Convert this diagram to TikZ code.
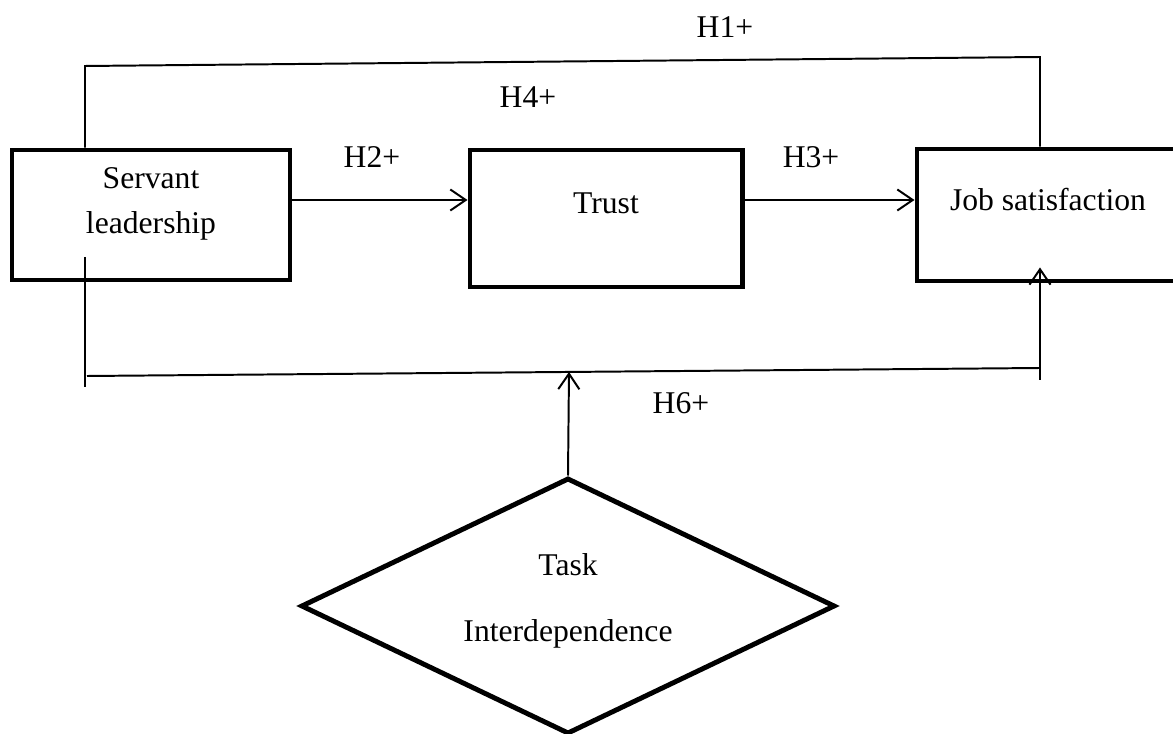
\documentclass[tikz,border=0pt]{standalone}
\usepackage{fontspec}
\setmainfont{Liberation Serif}
\usetikzlibrary{shapes.geometric, arrows.meta, positioning}

\begin{document}
\begin{tikzpicture}[x=0.025cm, y=-0.025cm,
    font=\fontsize{22.5}{32}\selectfont,
    box/.style={draw, line width=3.5pt, rectangle, inner sep=0pt},
    link/.style={line width=1.4pt},
    arr/.style={link, -{Straight Barb[length=11pt, width=15pt]}}]
    \clip (0,0) rectangle (1173,734);
    \node[box, minimum width=6.95cm, minimum height=3.25cm] (SL) at (151,215) {};
    \node[box, minimum width=6.8cm, minimum height=3.425cm] (T) at (606,218.5) {};
    \node[box, minimum width=6.525cm, minimum height=3.3cm] (JS) at (1047.5,215) {};
    \node[draw, diamond, line width=3.5pt, inner sep=0pt, minimum width=13.35cm, minimum height=6.4cm] (TI) at (568,606) {};
    \node[align=center] (SLtext) at (151,204) {Servant\\leadership};
    \node (Ttext) at (606,203) {Trust};
    \node (JStext) at (1048,200) {Job satisfaction};
    \node[align=center] (TItext) at (568,601) {Task\\[15pt]Interdependence};
    \node (H1) at (725,27) {H1+};
    \node (H4) at (528,97) {H4+};
    \node (H2) at (372,157) {H2+};
    \node (H3) at (811,157) {H3+};
    \node (H6) at (681,403) {H6+};
    \coordinate (mid) at (0,200);
    \coordinate (H1left) at (85,66);
    \coordinate (H1right) at (1040,57);
    \coordinate (H6top) at (85,257);
    \coordinate (H6left) at (85,387);
    \coordinate (H6lineL) at (87,376);
    \coordinate (H6lineR) at (1040,368);
    \coordinate (H6right) at (1040,380);
    \coordinate (H6mid) at (569,372);
    \draw[arr] (SL.east |- mid) to (T.west |- mid);
    \draw[arr] (T.east |- mid) to (JS.west |- mid);
    \draw[link] (SL.north -| H1left) -- (H1left) -- (H1right) -- (JS.north -| H1right);
    \draw[link] (H6top) -- (H6left);
    \draw[link] (H6lineL) -- (H6lineR);
    \draw[arr] (H6right) -- ([yshift=0.4cm]JS.south -| H6right);
    \draw[arr] (TI.north) -- (H6mid);
\end{tikzpicture}
\end{document}
